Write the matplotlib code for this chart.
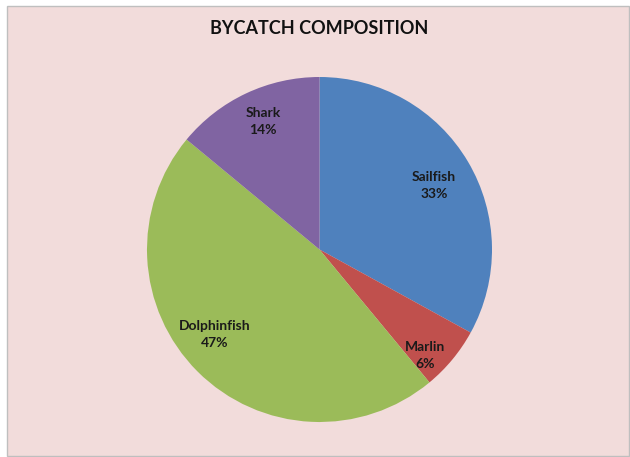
import matplotlib.pyplot as plt
import matplotlib.patches as mplpatches
import numpy as np

# bycatch share by species, clockwise from 12 o'clock
species = ['Sailfish', 'Marlin', 'Dolphinfish', 'Shark']
share = [33, 6, 47, 14]
colors = ['#4F81BD', '#C0504D', '#9BBB59', '#8064A2']
# label placement: radius (fraction of pie radius) and angle nudge in degrees
labelRadius = [0.77, 0.853, 0.767, 0.83]
labelNudge = [0, -4.4, -7.2, -2]

figureWidth = 6.3
figureHeight = 4.57
fig = plt.figure(figsize=(figureWidth, figureHeight), dpi=100)
fig.patch.set_facecolor('white')

# chart area box
W = figureWidth * 100
H = figureHeight * 100
bg = mplpatches.Rectangle((6.5 / W, 1.5 / H), (W - 8) / W, (H - 7) / H,
                          transform=fig.transFigure, facecolor='#F2DCDB',
                          edgecolor='#BFBFBF', linewidth=1.0, zorder=-5)
fig.patches.append(bg)

fig.text(319 / W, 1 - 28 / H, 'BYCATCH COMPOSITION', ha='center', va='center',
         fontsize=13, fontweight='bold', family='Lato', color='#111111')

# pie panel, centre at (319.5, 249.5) px, radius 172.5 px
r = 172.5
cx, cy = 319.5, H - 249.5
panel = plt.axes([(cx - r) / W, (cy - r) / H, 2 * r / W, 2 * r / H])
panel.set_facecolor('none')
panel.axis('off')
panel.set_zorder(2)

wedges, _ = panel.pie(share, colors=colors, startangle=90, counterclock=False,
                      radius=1, wedgeprops=dict(linewidth=0, antialiased=True))
panel.set_xlim(-1, 1)
panel.set_ylim(-1, 1)

for w, name, val, lr, nudge in zip(wedges, species, share, labelRadius, labelNudge):
    mid = np.deg2rad((w.theta1 + w.theta2) / 2 + nudge)
    panel.text(lr * np.cos(mid), lr * np.sin(mid) - 0.02, f'{name}\n{val}%',
               ha='center', va='center', fontsize=10, fontweight='bold',
               family='Lato', color='#1a1a1a', linespacing=1.5)

plt.savefig('out.png', dpi=100, facecolor=fig.get_facecolor())
